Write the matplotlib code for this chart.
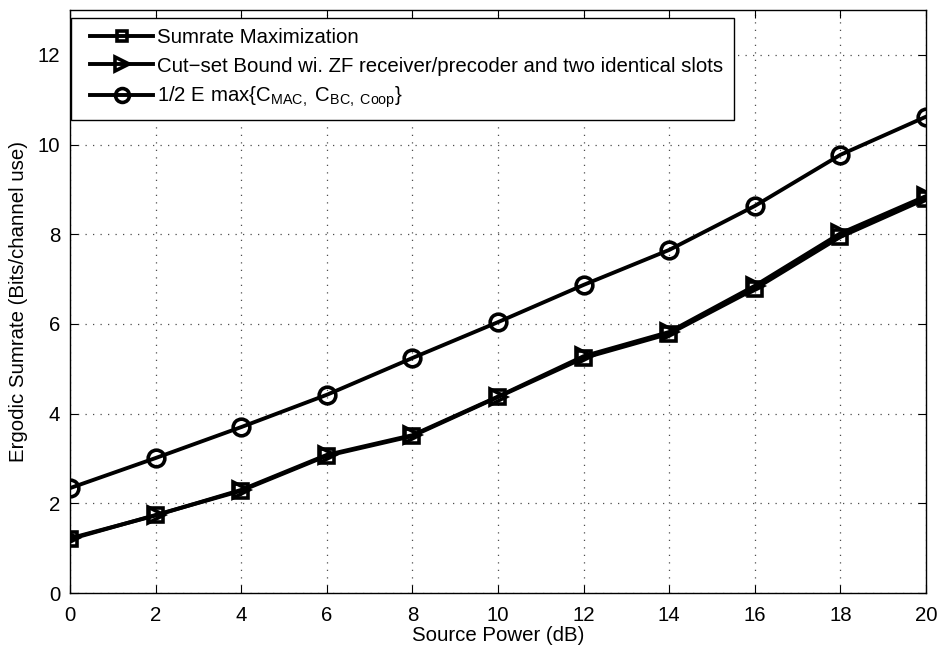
import numpy as np
import matplotlib.pyplot as plt
from matplotlib.lines import Line2D
from matplotlib.legend_handler import HandlerLine2D

plt.rcParams['font.family'] = ['Liberation Sans', 'DejaVu Sans']
plt.rcParams['mathtext.fontset'] = 'custom'
plt.rcParams['mathtext.rm'] = 'Liberation Sans'
plt.rcParams['mathtext.it'] = 'Liberation Sans'

# source power in dB
power_db = [0, 2, 4, 6, 8, 10, 12, 14, 16, 18, 20]
sumrate_max = [1.20, 1.74, 2.28, 3.06, 3.50, 4.37, 5.24, 5.78, 6.78, 7.94, 8.79]
cutset_zf = [1.22, 1.73, 2.30, 3.08, 3.52, 4.38, 5.28, 5.82, 6.85, 8.02, 8.85]
half_emax = [2.34, 3.01, 3.70, 4.42, 5.24, 6.04, 6.87, 7.65, 8.63, 9.77, 10.62]

fs = 14.7

fig = plt.figure(figsize=(9.4, 6.46), dpi=100)
ax = fig.add_axes([0.0745, 0.082, 0.9105, 0.9025])

ax.plot(power_db, sumrate_max, 'k-s', lw=2.8, ms=10, mew=2.6, mfc='none',
        label='Sumrate Maximization')
ax.plot(power_db, cutset_zf, 'k->', lw=2.8, ms=12, mew=2.6, mfc='none',
        label='Cut\u2212set Bound wi. ZF receiver/precoder and two identical slots')
ax.plot(power_db, half_emax, 'k-o', lw=2.8, ms=12, mew=2.6, mfc='none',
        label=r'1/2 E max{C$_{\mathrm{MAC},}$ C$_{\mathrm{BC,\ Coop}}$}')

ax.set_xlim(0, 20)
ax.set_ylim(0, 13)
ax.set_xticks(np.arange(0, 21, 2))
ax.set_yticks(np.arange(0, 13, 2))
ax.grid(True, color='0.3', lw=0.9, dashes=(1, 5))
ax.tick_params(direction='in', top=True, right=True, labelsize=fs, length=6)
ax.tick_params(axis='x', pad=9)
ax.tick_params(axis='y', pad=7)
for s in ax.spines.values():
    s.set_linewidth(1.0)

ax.set_xlabel('Source Power (dB)', fontsize=fs, labelpad=1)
ax.set_ylabel('Ergodic Sumrate (Bits/channel use)', fontsize=fs, labelpad=7)

leg = ax.legend(loc='upper left', bbox_to_anchor=(0.001, 0.986), fontsize=fs,
                fancybox=False, framealpha=1, edgecolor='k', borderaxespad=0,
                handlelength=3.53, handletextpad=0.2, labelspacing=0.45,
                borderpad=0.5, handler_map={Line2D: HandlerLine2D(xpad=0.45)})
leg.get_frame().set_linewidth(1.0)
# smaller markers inside the legend box
for h, ms in zip(leg.get_lines(), [7, 10, 10]):
    h.set_markersize(ms)

fig.savefig('out.png', dpi=100)
